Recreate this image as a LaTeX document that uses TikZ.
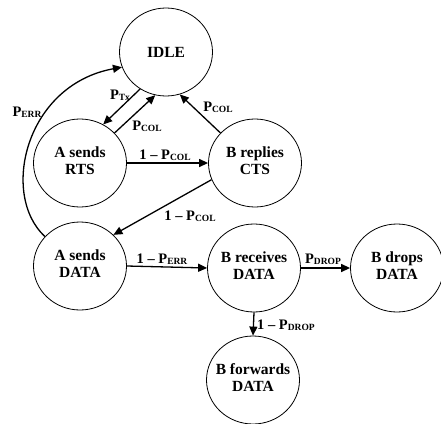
\documentclass[tikz,border=0pt]{standalone}
\usepackage{fontspec}
\setmainfont{Liberation Serif}
\usetikzlibrary{arrows.meta,positioning,shapes.geometric}
\tikzset{
  state/.style={ellipse,draw,line width=0.8pt,minimum width=93pt,minimum height=88pt,
    inner sep=0pt,font=\bfseries\fontsize{15.5}{17}\selectfont},
  lbl/.style={font=\bfseries\fontsize{14.5}{16}\selectfont,inner sep=1pt}
}
\tikzstyle{arrow} = [line width=1.3pt,-{Triangle[length=9pt,width=8pt]}]
\newcommand{\psub}[1]{\raisebox{-1pt}{\fontsize{9.5}{10}\selectfont #1}}
\newcommand{\twolines}[2]{\makebox[0pt]{\begin{tabular}{@{}c@{}}#1\\#2\end{tabular}}}

\begin{document}
\begin{tikzpicture}[x=1pt,y=-1pt]
  \useasboundingbox (0,0) rectangle (441,423);
  % states
  \node[state] (idle) at (166,52)  {\makebox[0pt]{IDLE}};
  \node[state] (rts)  at (80,163)  {\twolines{A sends}{RTS}};
  \node[state] (cts)  at (255,163) {\twolines{B replies}{CTS}};
  \node[state] (data) at (80,266)  {\twolines{A sends}{DATA}};
  \node[state] (recv) at (254,268) {\twolines{B receives}{DATA}};
  \node[state] (drop) at (397,268) {\twolines{B drops}{DATA}};
  \node[state] (fwd)  at (253,380) {\twolines{B forwards}{DATA}};
  % transitions
  \draw[arrow] (idle.235) -- (rts.59);
  \draw[arrow] (rts.41) -- (idle.256);
  \draw[arrow] (cts.139) -- (idle.288);
  \draw[arrow] (rts.east) -- (cts.west);
  \draw[arrow] (cts.201) -- (data.43);
  \draw[arrow] (data.east) -- (recv.west);
  \draw[arrow] (recv.east) -- (drop.west);
  \draw[arrow] (recv.south) -- (fwd.north);
  \draw[arrow] (data.140) .. controls (0,195) and (25,85) .. (idle.199);
  % labels
  \foreach \n/\p/\t in {ptx/{120,95}/{P\psub{Tx}},
      pcola/{147,126}/{P\psub{COL}},
      pcolb/{218,107}/{P\psub{COL}},
      qcola/{165,155}/{1 – P\psub{COL}},
      qcolb/{190,216}/{1 – P\psub{COL}},
      qerr/{162,259}/{1 – P\psub{ERR}},
      pdrop/{323,259}/{P\psub{DROP}},
      qdrop/{286,325}/{1 – P\psub{DROP}},
      perr/{27,112}/{P\psub{ERR}}}
    \node[lbl] (\n) at (\p) {\t};
\end{tikzpicture}
\end{document}
